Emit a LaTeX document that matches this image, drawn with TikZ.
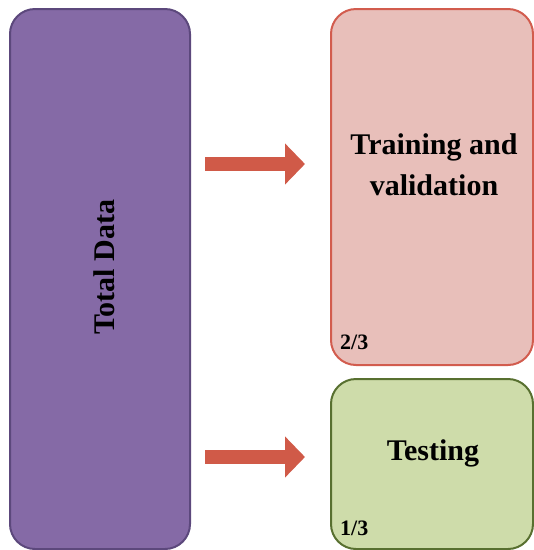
\documentclass[tikz,border=0pt]{standalone}
\usepackage{fontspec}
\setmainfont{Liberation Serif}
\usepackage{tikz}
\usepackage[dvipsnames]{xcolor}
\usetikzlibrary{positioning, arrows.meta, calc}

\definecolor{totalfill}{RGB}{133,106,166}
\definecolor{totaldraw}{RGB}{92,72,124}
\definecolor{trainfill}{RGB}{232,191,186}
\definecolor{traindraw}{RGB}{210,92,78}
\definecolor{testfill}{RGB}{206,220,170}
\definecolor{testdraw}{RGB}{88,112,48}
\definecolor{arrowred}{RGB}{208,90,72}

\begin{document}
\begin{tikzpicture}[
  x=1pt, y=-1pt,
  box/.style={rounded corners=25pt, line width=2pt, inner sep=0pt},
  title/.style={font=\fontsize{30}{41}\selectfont\bfseries, align=center, inner sep=0pt},
  share/.style={font=\fontsize{22}{24}\selectfont\bfseries, anchor=base west, inner sep=0pt},
  bigarrow/.style={arrowred, line width=14pt, -{Triangle[length=20pt, width=40pt]}}
]
\useasboundingbox (0,0) rectangle (534,550);
% Boxes
\node[box, draw=totaldraw, fill=totalfill, minimum width=180pt, minimum height=540pt] (total) at (100,279) {};
\node[box, draw=traindraw, fill=trainfill, minimum width=202pt, minimum height=356pt] (train) at (432,187) {};
\node[box, draw=testdraw, fill=testfill, minimum width=202pt, minimum height=170pt] (test) at (432,464) {};
% Texts
\node[title, rotate=90, anchor=base] (totallbl) at (114,267) {Total Data};
\node[title, anchor=base] (trainlbl) at (434,195) {Training and\\validation};
\node[title, anchor=base] (testlbl) at (433,460) {Testing};
\node[share] (trainshare) at (340,349) {2/3};
\node[share] (testshare) at (340,535) {1/3};
% Arrows
\coordinate (a1s) at ([xshift=14pt]total.east |- 0,164);
\coordinate (a1e) at ([xshift=-25pt]train.west |- 0,164);
\coordinate (a2s) at ([xshift=14pt]total.east |- 0,457);
\coordinate (a2e) at ([xshift=-25pt]test.west |- 0,457);
\draw[bigarrow] (a1s) -- (a1e);
\draw[bigarrow] (a2s) -- (a2e);
\end{tikzpicture}
\end{document}
